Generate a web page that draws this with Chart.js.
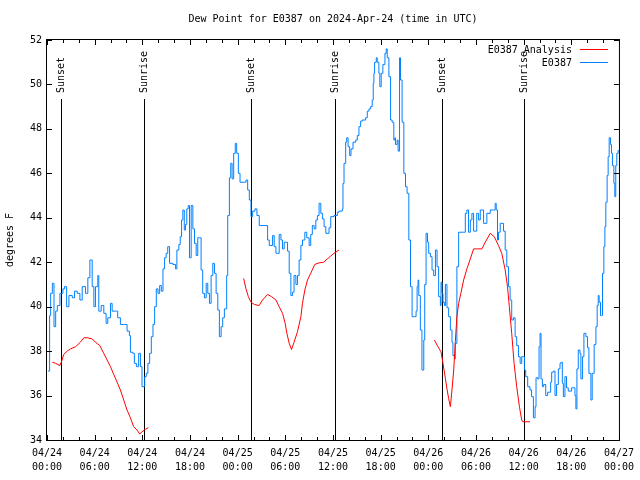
<!DOCTYPE html>
<html>
<head>
<meta charset="utf-8">
<script src="https://cdn.jsdelivr.net/npm/chart.js@4.4.1/dist/chart.umd.min.js"></script>
<style>
  html, body { margin: 0; padding: 0; background: #fff; }
</style>
</head>
<body>
<canvas id="chart" width="640" height="480"></canvas>
<script>
// Chart text
const chartTitle = "Dew Point for E0387 on 2024-Apr-24 (time in UTC)";
const yTitle = "degrees F";
const startDay = 24;

// Sunset / sunrise markers (hours since 04/24 00:00 UTC)
const sunHours = [1.72, 12.2, 25.7, 36.2, 49.7, 60.1];
const sunLabels = ["Sunset", "Sunrise", "Sunset", "Sunrise", "Sunset", "Sunrise"];

// Observed dew point, E0387 (hours, degrees F)
const obsHours = [
  0.13, 0.33, 0.46, 0.67, 0.88, 1.09, 1.3, 1.63, 2.0, 2.2, 2.47, 2.76, 3.18, 3.47, 3.8, 4.14, 4.43, 4.85,
  5.14, 5.4, 5.69, 5.9, 6.1, 6.4, 6.52, 6.82, 7.15, 7.44, 7.65, 7.99, 8.2, 8.62, 8.9, 9.24, 9.74, 10.08,
  10.37, 10.5, 10.79, 11.0, 11.25, 11.54, 11.76, 11.96, 12.08, 12.3, 12.5, 12.7, 12.92, 13.13, 13.34, 13.55,
  13.76, 13.97, 14.18, 14.39, 14.6, 14.8, 15.0, 15.2, 15.43, 15.85, 16.19, 16.35, 16.6, 16.77, 16.94, 17.1,
  17.28, 17.44, 17.6, 17.78, 17.94, 18.15, 18.36, 18.57, 18.78, 18.98, 19.2, 19.4, 19.6, 19.82, 20.04, 20.24,
  20.45, 20.66, 20.87, 21.08, 21.29, 21.5, 21.7, 21.92, 22.12, 22.33, 22.62, 22.75, 22.96, 23.13, 23.3, 23.5,
  23.7, 23.88, 24.09, 24.3, 24.84, 25.05, 25.26, 25.47, 25.68, 25.89, 26.18, 26.43, 26.72, 27.56, 27.77, 27.98,
  28.4, 28.6, 28.82, 29.02, 29.23, 29.45, 29.65, 29.86, 30.07, 30.28, 30.49, 30.7, 30.9, 31.1, 31.33, 31.53,
  31.74, 31.96, 32.16, 32.46, 32.7, 33.0, 33.2, 33.4, 33.63, 33.84, 34.04, 34.25, 34.47, 34.67, 34.88, 35.1,
  35.5, 35.72, 36.13, 36.55, 36.76, 37.18, 37.26, 37.39, 37.6, 37.73, 37.9, 38.1, 38.27, 38.52, 38.86, 39.06,
  39.27, 39.48, 39.69, 40.11, 40.32, 40.53, 40.74, 40.94, 41.07, 41.15, 41.24, 41.45, 41.57, 41.78, 41.9, 42.07,
  42.28, 42.54, 42.7, 42.83, 43.04, 43.25, 43.45, 43.66, 43.79, 43.87, 44.08, 44.2, 44.38, 44.5, 44.7, 44.92,
  45.13, 45.33, 45.55, 45.76, 45.96, 46.3, 46.46, 46.59, 46.71, 46.8, 47.0, 47.2, 47.43, 47.55, 47.72, 47.9,
  48.05, 48.27, 48.47, 48.68, 48.9, 49.1, 49.3, 49.52, 49.6, 49.72, 49.85, 50.02, 50.15, 50.35, 50.56, 50.78,
  50.98, 51.1, 51.28, 51.4, 51.6, 51.82, 52.45, 52.66, 52.86, 53.07, 53.29, 53.49, 53.7, 54.1, 54.33, 54.54,
  54.96, 55.37, 55.8, 56.2, 56.42, 56.55, 56.71, 56.84, 57.05, 57.47, 57.68, 57.88, 58.09, 58.3, 58.5, 58.72,
  58.93, 59.13, 59.35, 59.56, 59.76, 59.97, 60.1, 60.26, 60.51, 60.8, 61.0, 61.23, 61.44, 61.56, 61.77, 61.94,
  62.07, 62.19, 62.36, 62.52, 62.78, 63.02, 63.24, 63.4, 63.53, 63.74, 63.95, 64.15, 64.37, 64.58, 64.7, 64.87,
  65.0, 65.2, 65.4, 65.62, 66.04, 66.25, 66.46, 66.58, 66.71, 66.88, 67.09, 67.21, 67.42, 67.59, 67.84, 68.04,
  68.22, 68.47, 68.63, 68.88, 69.1, 69.26, 69.39, 69.51, 69.68, 69.8, 69.93, 70.1, 70.23, 70.35, 70.51, 70.64,
  70.77, 70.93, 71.06, 71.18, 71.36, 71.48, 71.6, 71.73, 71.9
];
const obsTemps = [
  37.1, 39.6, 40.6, 41.05, 39.1, 39.8, 40.05, 40.6, 40.8, 40.9, 40.0, 40.5, 40.4, 40.7, 40.6, 40.3, 40.9, 40.6,
  41.3, 42.1, 40.9, 40.0, 40.9, 41.4, 39.8, 40.05, 39.7, 39.25, 39.5, 40.15, 39.8, 39.8, 39.5, 39.2, 39.2, 38.9,
  38.7, 37.95, 37.9, 37.45, 37.3, 37.9, 37.3, 36.4, 36.4, 36.85, 37.0, 37.45, 37.9, 38.65, 39.2, 40.0,
  40.8, 40.6, 40.95, 40.7, 41.7, 42.2, 42.4, 42.7, 41.95, 41.9, 41.7, 42.55, 42.8, 43.15, 43.9, 44.35,
  43.45, 43.7, 44.4, 44.55, 42.2, 44.55, 43.5, 42.85, 42.3, 43.1, 43.1, 41.65, 40.6, 40.4, 41.05, 40.6,
  40.15, 41.4, 41.95, 41.5, 40.6, 39.85, 38.65, 39.1, 39.5, 39.9, 41.4, 44.1, 45.8, 46.45, 45.75, 46.9,
  47.35, 46.9, 46.0, 45.6, 45.6, 45.7, 45.25, 44.8, 44.05, 44.3, 44.4, 44.1, 43.65, 43.65, 43.0, 42.75,
  43.2, 42.7, 42.4, 42.4, 43.25, 43.0, 42.6, 42.9, 42.9, 42.5, 41.5, 40.5, 40.65, 41.4, 41.0, 41.4,
  42.1, 42.75, 43.0, 43.35, 43.1, 42.75, 43.25, 43.65, 43.5, 43.9, 44.1, 44.65, 44.2, 43.95, 43.6, 43.3,
  43.55, 44.05, 44.1, 44.25, 44.3, 44.4, 45.55, 46.45, 47.4, 47.6, 47.2, 46.8, 47.1, 47.4, 47.5, 47.7,
  48.1, 48.35, 48.4, 48.5, 48.8, 48.9, 49.0, 49.3, 50.05, 50.5, 51.0, 51.2, 51.0, 50.5, 49.9, 50.5,
  50.9, 51.4, 51.6, 51.2, 50.35, 48.4, 48.3, 47.5, 47.6, 47.3, 47.5, 47.0, 51.2, 50.2, 48.3, 46.0,
  45.4, 45.1, 43.0, 40.9, 39.55, 39.55, 39.8, 40.9, 41.2, 40.5, 38.95, 37.15, 38.5, 41.0, 43.3, 42.9,
  42.4, 42.25, 41.65, 41.4, 42.55, 41.8, 40.45, 40.05, 41.1, 40.6, 40.2, 40.05, 41.0, 39.95, 39.55, 38.95,
  38.4, 37.8, 37.65, 38.35, 41.8, 43.35, 43.35, 44.2, 44.35, 43.35, 43.9, 44.2, 43.4, 44.2, 43.9, 44.35,
  43.75, 44.2, 44.35, 44.35, 44.65, 44.35, 43.0, 43.35, 43.75, 43.4, 42.55, 41.8, 40.9, 40.3, 39.4, 39.5,
  38.65, 38.25, 37.75, 37.45, 37.75, 37.75, 37.15, 36.85, 36.4, 36.25, 35.95, 35.0, 35.5, 36.8, 36.75, 38.2,
  38.8, 36.75, 36.4, 36.5, 36.0, 36.15, 36.15, 36.6, 37.05, 37.1, 36.0, 36.5, 37.2, 37.45, 37.5, 36.55,
  35.95, 36.85, 36.35, 36.2, 36.35, 36.35, 36.0, 35.4, 37.2, 38.05, 37.9, 36.75, 37.75, 38.8, 38.65, 38.15,
  37.0, 35.8, 37.0, 38.3, 39.1, 40.05, 40.5, 40.2, 39.6, 39.6, 41.5, 42.7, 43.6, 44.7, 45.9, 46.75,
  47.6, 47.3, 46.9, 46.35, 45.55, 44.95, 46.35, 46.9, 47.05
];

// Analysis runs, E0387 Analysis (null breaks the line between runs)
const anaHours = [
  0.67, 1.09, 1.63, 1.9, 2.1, 2.55, 2.97, 3.6, 4.2, 4.64, 5.06, 5.69, 6.1, 6.65, 7.07, 7.57, 7.99, 8.4,
  8.83, 9.24, 9.66, 10.08, 10.5, 10.9, 11.33, 11.67, 11.96, 12.38, 12.76,
  18,
  24.76, 25.05, 25.35, 25.68, 26.1, 26.7, 27.14, 27.77, 28.27, 28.82, 29.23, 29.65, 29.95, 30.2, 30.49,
  30.78, 31.1, 31.53, 31.96, 32.16, 32.46, 32.79, 33.2, 33.7, 34.25, 34.8, 35.3, 35.7, 36.13, 36.76,
  42,
  48.77, 49.18, 49.6, 49.85, 50.15, 50.35, 50.56, 50.78, 50.98, 51.2, 51.4, 51.6, 51.82, 52.1, 52.45,
  52.86, 53.29, 53.7, 54.1, 54.75, 55.17, 55.8, 56.3, 56.84, 57.25, 57.68, 57.97, 58.2, 58.5, 58.8,
  59.13, 59.47, 59.76, 59.9, 60.8
];
const anaTemps = [
  37.5, 37.45, 37.35, 37.6, 37.85, 38.0, 38.1, 38.2, 38.4, 38.6, 38.6, 38.55, 38.4, 38.25, 37.95, 37.6, 37.3, 36.95,
  36.6, 36.25, 35.8, 35.35, 35.0, 34.6, 34.45, 34.27, 34.37, 34.48, 34.55,
  null,
  41.27, 40.8, 40.45, 40.2, 40.1, 40.05, 40.3, 40.55, 40.45, 40.3, 40.0, 39.7, 39.3, 38.8, 38.35,
  38.07, 38.4, 38.87, 39.55, 40.15, 40.75, 41.2, 41.5, 41.9, 41.97, 42.0, 42.15, 42.27, 42.4, 42.55,
  null,
  38.5, 38.22, 37.97, 37.45, 36.77, 36.3, 35.87, 35.5, 36.25, 37.15, 38.42, 39.55, 40.15, 40.6, 41.2,
  41.7, 42.15, 42.6, 42.6, 42.6, 42.9, 43.3, 43.15, 42.75, 42.4, 41.65, 40.9, 40.0, 38.8, 37.45,
  36.4, 35.5, 34.9, 34.82, 34.82
];

const FONT = '10px "DejaVu Sans Mono", "Liberation Mono", monospace';

function pad2(n) {
  return (n < 10 ? "0" : "") + n;
}

// gnuplot-like frame, inward ticks, sun markers, title and legend
const gnuplotDecor = {
  id: "gnuplotDecor",
  beforeDatasetsDraw(chart) {
    const { ctx, chartArea: a, scales } = chart;
    ctx.save();
    ctx.strokeStyle = "#000";
    ctx.fillStyle = "#000";
    ctx.lineWidth = 1;
    ctx.font = FONT;
    sunHours.forEach((h, i) => {
      const px = Math.round(scales.x.getPixelForValue(h)) + 0.5;
      ctx.beginPath();
      ctx.moveTo(px, a.top + 59);
      ctx.lineTo(px, a.bottom);
      ctx.stroke();
      ctx.save();
      ctx.translate(px, a.top + 53);
      ctx.rotate(-Math.PI / 2);
      ctx.textAlign = "left";
      ctx.textBaseline = "middle";
      ctx.fillText(sunLabels[i], 0, 0);
      ctx.restore();
    });
    ctx.restore();
  },
  afterDraw(chart) {
    const { ctx, chartArea: a, scales } = chart;
    const { x, y } = scales;
    ctx.save();
    ctx.strokeStyle = "#000";
    ctx.lineWidth = 1;

    // border
    ctx.strokeRect(a.left - 0.5, a.top - 0.5, a.right - a.left + 1, a.bottom - a.top + 1);

    // x ticks: major every 6 h, minor every 2 h, top and bottom
    ctx.beginPath();
    for (let h = 0; h <= 72; h += 2) {
      const px = Math.round(x.getPixelForValue(h)) + 0.5;
      const len = h % 6 === 0 ? 5 : 3;
      ctx.moveTo(px, a.bottom);
      ctx.lineTo(px, a.bottom - len);
      ctx.moveTo(px, a.top);
      ctx.lineTo(px, a.top + len);
    }
    // y ticks left and right
    for (let v = 34; v <= 52; v += 2) {
      const py = Math.round(y.getPixelForValue(v)) + 0.5;
      ctx.moveTo(a.left, py);
      ctx.lineTo(a.left + 5, py);
      ctx.moveTo(a.right, py);
      ctx.lineTo(a.right - 5, py);
    }
    ctx.stroke();

    ctx.fillStyle = "#000";
    ctx.font = FONT;
    ctx.textBaseline = "middle";

    // title
    ctx.textAlign = "center";
    ctx.fillText(chartTitle, (a.left + a.right) / 2, 19);

    // y axis title
    ctx.save();
    ctx.translate(10, (a.top + a.bottom) / 2);
    ctx.rotate(-Math.PI / 2);
    ctx.fillText(yTitle, 0, 0);
    ctx.restore();

    // legend
    ctx.textAlign = "right";
    chart.data.datasets.forEach((ds, i) => {
      const ly = a.top + 10 + i * 13;
      ctx.fillStyle = "#000";
      ctx.fillText(ds.label, a.right - 47, ly);
      ctx.strokeStyle = ds.borderColor;
      ctx.beginPath();
      ctx.moveTo(a.right - 39, Math.round(ly) - 0.5);
      ctx.lineTo(a.right - 11, Math.round(ly) - 0.5);
      ctx.stroke();
    });
    ctx.restore();
  }
};

document.addEventListener("DOMContentLoaded", () => {
  const ctx = document.getElementById("chart").getContext("2d");
  new Chart(ctx, {
    type: "line",
    data: {
      datasets: [
        {
          label: "E0387 Analysis",
          data: anaHours.map((h, i) => ({ x: h, y: anaTemps[i] })),
          borderColor: "#ff0000",
          borderWidth: 1,
          pointRadius: 0,
          spanGaps: false
        },
        {
          label: "E0387",
          data: obsHours.map((h, i) => ({ x: h, y: obsTemps[i] })),
          borderColor: "#0080ff",
          borderWidth: 1,
          pointRadius: 0,
          stepped: true
        }
      ]
    },
    options: {
      responsive: false,
      animation: false,
      layout: { padding: { top: 40, right: 19, left: 0, bottom: 0 } },
      plugins: {
        legend: { display: false },
        title: { display: false },
        tooltip: { enabled: false }
      },
      scales: {
        x: {
          type: "linear",
          min: 0,
          max: 72,
          afterFit: (scale) => { scale.height = 40; },
          grid: { display: false, drawTicks: false },
          border: { display: false },
          ticks: {
            stepSize: 6,
            autoSkip: false,
            maxRotation: 0,
            padding: 6,
            color: "#000",
            font: { family: '"DejaVu Sans Mono"', size: 10, lineHeight: 1.4 },
            callback: (v) => ["04/" + (startDay + Math.floor(v / 24)), pad2(v % 24) + ":00"]
          }
        },
        y: {
          min: 34,
          max: 52,
          afterFit: (scale) => { scale.width = 47; },
          grid: { display: false, drawTicks: false },
          border: { display: false },
          ticks: {
            stepSize: 2,
            padding: 5,
            color: "#000",
            font: { family: '"DejaVu Sans Mono"', size: 10 }
          }
        }
      }
    },
    plugins: [gnuplotDecor]
  });
});
</script>
</body>
</html>
